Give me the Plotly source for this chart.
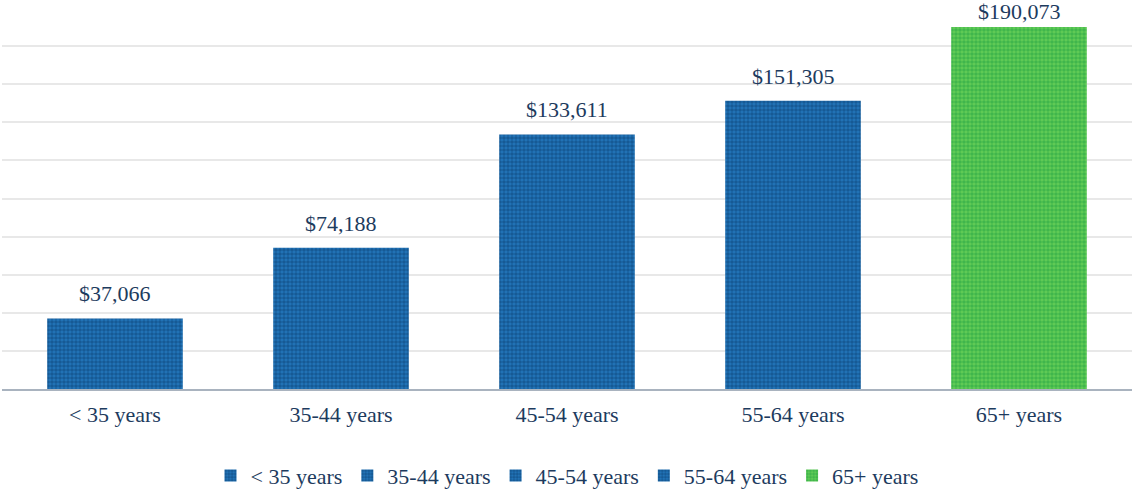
import plotly.graph_objects as go

categories = ["< 35 years", "35-44 years", "45-54 years", "55-64 years", "65+ years"]
values = [37066, 74188, 133611, 151305, 190073]
bg_colors = ["#2274b8", "#2274b8", "#2274b8", "#2274b8", "#62cc56"]
fg_colors = ["#093f72", "#093f72", "#093f72", "#093f72", "#1e9f42"]

TEXT = "#1d3b5e"
FONT = "Liberation Serif"
FSIZE = 22

fig = go.Figure()
for cat, val, bg, fg in zip(categories, values, bg_colors, fg_colors):
    fig.add_trace(go.Bar(
        x=[cat], y=[val], name=cat,
        marker=dict(
            color=bg,
            line=dict(width=0),
            pattern=dict(shape=".", size=4, solidity=0.62,
                         fgcolor=fg, fillmode="overlay"),
        ),
        hovertemplate="%{x}: $%{y:,}<extra></extra>",
    ))

# value labels above each bar; the tallest one sits tighter so it stays on the page
for cat, val in zip(categories, values):
    fig.add_annotation(
        x=cat, y=val, text=f"${val:,}", showarrow=False,
        yanchor="bottom", yshift=10 if val < 180000 else 1,
        font=dict(family=FONT, size=FSIZE, color=TEXT),
    )

fig.update_layout(
    width=1133, height=489,
    margin=dict(l=2, r=1, t=8, b=100, autoexpand=False),
    paper_bgcolor="white", plot_bgcolor="white",
    barmode="overlay", bargap=0.4,
    font=dict(family=FONT, size=FSIZE, color=TEXT),
    showlegend=True,
    legend=dict(orientation="h", x=0.5, xanchor="center",
                yref="container", y=0.027, yanchor="middle",
                font=dict(family=FONT, size=FSIZE, color=TEXT), itemwidth=30,
                traceorder="normal"),
    xaxis=dict(showline=True, linecolor="#a9b3bf", linewidth=2, ticks="",
               ticklabelstandoff=5,
               tickfont=dict(family=FONT, size=FSIZE, color=TEXT), showgrid=False),
    yaxis=dict(range=[0, 200000], dtick=20000, showticklabels=False,
               showgrid=True, gridcolor="#e8e8e8", gridwidth=2, zeroline=False),
)

fig.write_html("out.html")
